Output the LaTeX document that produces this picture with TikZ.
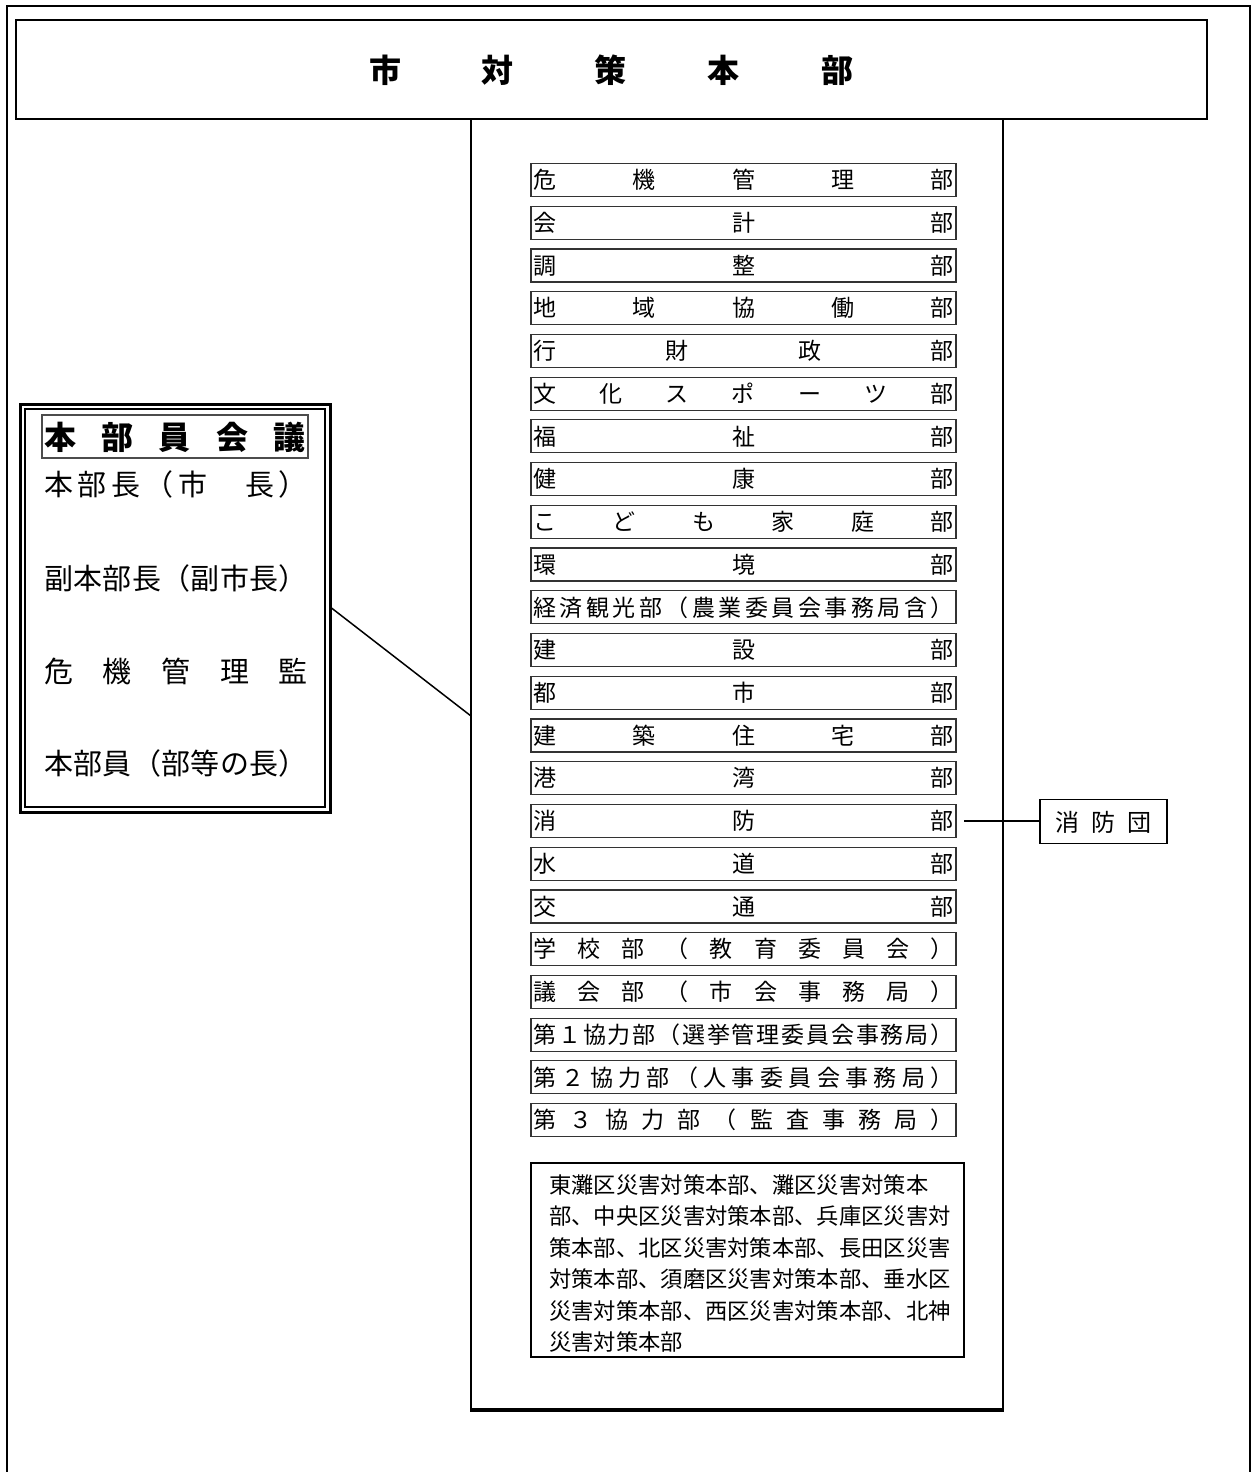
\documentclass[tikz,border=0pt]{standalone}
\usepackage{fontspec}
\setmainfont{Noto Sans CJK JP}
\def\spreadtext#1{\spreadfirst#1\relax}
\def\spreadfirst#1{#1\spreadloop}
\def\spreadloop#1{\ifx#1\relax\else\hfill#1\expandafter\spreadloop\fi}
\newcommand\spreadbox[2]{\hbox to #1{\expandafter\spreadtext\expandafter{#2}}}
\tikzset{
  frame/.style={draw=black, line width=1.5pt},
  dept/.style={draw=black!80, line width=1.2pt, minimum width=425pt, minimum height=33pt, inner sep=0pt, font=\fontsize{23pt}{23pt}\selectfont},
  plain/.style={inner sep=0pt},
  conn/.style={draw=black, line width=1.5pt},
}
\begin{document}
\begin{tikzpicture}[x=1pt,y=-1pt]
\useasboundingbox (0,0) rectangle (1252,1472);
% outer frame
\draw[frame] (7,1474) -- (7,6) -- (1250,6) -- (1250,1474);
% title
\node[draw, line width=2pt, minimum width=1191pt, minimum height=99pt, inner sep=0pt] (title) at (611.5,69.5) {};
\node[plain, font=\fontsize{32pt}{32pt}\selectfont\bfseries] (titletext) at (611,70) {\spreadbox{484pt}{市対策本部}};
% central column
\node[draw, line width=2pt, minimum width=532pt, minimum height=1290pt, inner sep=0pt] (col) at (737,764) {};
\draw[line width=3.5pt] (col.south west) -- (col.south east);
% departments
\foreach \t [count=\i] in {危機管理部,会計部,調整部,地域協働部,行財政部,文化スポーツ部,福祉部,健康部,こども家庭部,環境部,経済観光部（農業委員会事務局含）,建設部,都市部,建築住宅部,港湾部,消防部,水道部,交通部,学校部（教育委員会）,議会部（市会事務局）,第１協力部（選挙管理委員会事務局）,第２協力部（人事委員会事務局）,第３協力部（監査事務局）}
  \node[dept] (d\i) at (743.5,{180+(\i-1)*42.73}) {\spreadbox{420pt}{\t}};
% fire brigade
\node[draw, line width=1.5pt, minimum width=127pt, minimum height=44pt, inner sep=0pt] (fd) at (1103.5,821.5) {};
\node[plain, font=\fontsize{24pt}{24pt}\selectfont] (fdtext) at (1103,822) {\spreadbox{96pt}{消防団}};
\coordinate (fdstart) at (964,821);
\draw[conn] (fdstart) -- (fd.west |- fdstart);
% ward box
\node[draw, line width=1.5pt, minimum width=433pt, minimum height=194pt, inner sep=0pt] (ku) at (747.5,1260) {};
\foreach \t [count=\i] in {東灘区災害対策本部、灘区災害対策本,部、中央区災害対策本部、兵庫区災害対,策本部、北区災害対策本部、長田区災害,対策本部、須磨区災害対策本部、垂水区,災害対策本部、西区災害対策本部、北神,災害対策本部}
  \node[plain, anchor=base west, font=\fontsize{22.3pt}{22.3pt}\selectfont] (k\i) at (549,{1193.5+(\i-1)*31.4}) {\t};
% left box
\node[draw, line width=3pt, minimum width=310pt, minimum height=408pt, inner sep=0pt] (lbo) at (175,608) {};
\node[draw, line width=1.3pt, minimum width=300pt, minimum height=398pt, inner sep=0pt] (lbi) at (175,608) {};
\node[draw=black!70, line width=1.2pt, minimum width=266pt, minimum height=43pt, inner sep=0pt] (head) at (175,436.5) {};
\node[plain, font=\fontsize{32pt}{32pt}\selectfont\bfseries] (headtext) at (175,437) {\spreadbox{262pt}{本部員会議}};
\foreach \t/\yy [count=\i] in {本部長（市　長）/484, 副本部長（副市長）/578, 危機管理監/671, 本部員（部等の長）/763}
  \node[plain, font=\fontsize{29pt}{29pt}\selectfont] (m\i) at (176,\yy) {\spreadbox{264pt}{\t}};
% connector
\coordinate (cj) at (471,716);
\draw[conn] (lbo.east) -- (cj);
\end{tikzpicture}
\end{document}
